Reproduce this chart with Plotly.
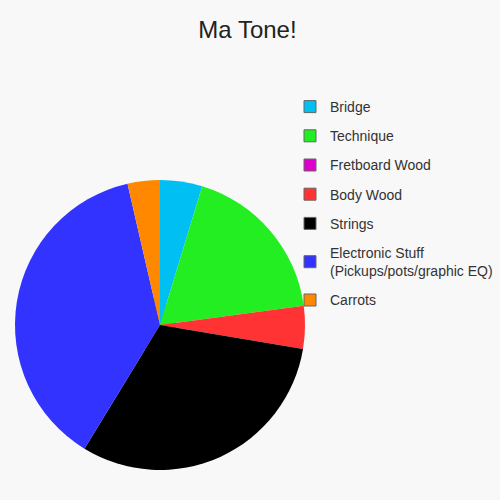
import plotly.graph_objs as go


########
# Data #
########
labels = [
    'Bridge',
    'Technique',
    'Fretboard Wood',
    'Body Wood',
    'Strings',
    'Electronic Stuff<br>(Pickups/pots/graphic EQ)',
    'Carrots',
]
values = [4.7, 18.2, 0.0, 4.75, 31.1, 37.7, 3.6]

##########
# Colors #
##########
color_dict = {
    'Bridge': '#00bff3',
    'Technique': '#22ee22',
    'Fretboard Wood': '#dd00cc',
    'Body Wood': '#ff3333',
    'Strings': '#000000',
    'Electronic Stuff<br>(Pickups/pots/graphic EQ)': '#3333ff',
    'Carrots': '#ff8800',
}
colors = [color_dict[l] for l in labels]

fig = go.Figure()

# One small pie per label, hidden under the big one, only so the legend
# gets bordered squares and some space between the entries
for i, l in enumerate(labels):
    fig.add_trace(go.Pie(
        labels = [l],
        values = [1],
        marker = dict(colors = [color_dict[l]], line = dict(color = '#666666', width = 1)),
        domain = dict(x = [0.2, 0.4], y = [0.3, 0.4]),
        textinfo = 'none',
        hoverinfo = 'skip',
        legendgroup = 'g%d' % i,
        showlegend = True,
        sort = False,
    ))

# The real pie
fig.add_trace(go.Pie(
    labels = labels,
    values = values,
    marker = dict(colors = colors, line = dict(width = 0)),
    sort = False,
    direction = 'clockwise',
    rotation = 0,
    textinfo = 'none',
    showlegend = False,
    domain = dict(x = [15 / 500, 305 / 500], y = [30 / 500, 320 / 500]),
))

fig.update_layout(
    width = 500,
    height = 500,
    margin = dict(l = 0, r = 0, t = 0, b = 0),
    paper_bgcolor = '#f8f8f8',
    plot_bgcolor = '#f8f8f8',
    font = dict(family = 'Liberation Sans, Arial, sans-serif', color = '#333333'),
    title = dict(
        text = 'Ma Tone!',
        x = 0.495,
        xanchor = 'center',
        y = 1 - 30 / 500,
        yanchor = 'middle',
        font = dict(size = 24, color = '#222222'),
    ),
    legend = dict(
        x = 290 / 500,
        xanchor = 'left',
        y = 1 - 91 / 500,
        yanchor = 'top',
        font = dict(size = 14, color = '#333333'),
        tracegroupgap = 8,
        bgcolor = 'rgba(0,0,0,0)',
    ),
)

# drop the page margin so the 500x500 figure sits at the window corner
fig.write_html(
    'out.html',
    config = dict(displayModeBar = False),
    post_script = "document.body.style.margin = '0';",
)
